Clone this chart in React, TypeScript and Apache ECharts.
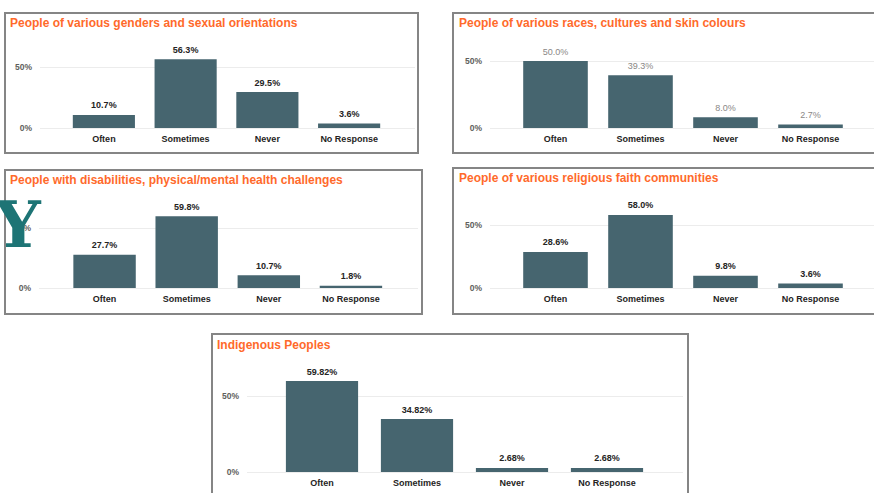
import React, { useEffect, useRef } from "react";
import * as echarts from "echarts";

const categories = ["Often", "Sometimes", "Never", "No Response"];
const titles = [
  "People of various genders and sexual orientations",
  "People of various races, cultures and skin colours",
  "People with disabilities, physical/mental health challenges",
  "People of various religious faith communities",
  "Indigenous Peoples",
];
const gendersValues = [10.7, 56.3, 29.5, 3.6];
const racesValues = [50.0, 39.3, 8.0, 2.7];
const disabilitiesValues = [27.7, 59.8, 10.7, 1.8];
const religiousValues = [28.6, 58.0, 9.8, 3.6];
const indigenousValues = [59.82, 34.82, 2.68, 2.68];
const yTicks = [0, 50];
const decimals = [1, 1, 1, 1, 2];

// layout of each panel (pixels)
const panels = [
  { box: [5, 13, 413, 140], title: [10, 23], zero: 128, scale: 1.22, gA: [40, 375], gB: [63, 327], labelColor: "#252423", labelBold: true },
  { box: [453, 13, 432, 140], title: [459, 23], zero: 128, scale: 1.34, gA: [490, 384], gB: [513, 340], labelColor: "#8a8886", labelBold: false },
  { box: [5, 170, 417, 144], title: [10, 180], zero: 288, scale: 1.2, gA: [39, 379], gB: [63.5, 328.5], labelColor: "#252423", labelBold: true },
  { box: [453, 168, 432, 146], title: [459, 178], zero: 288, scale: 1.26, gA: [490, 384], gB: [513, 340], labelColor: "#252423", labelBold: true },
  { box: [212, 334, 476, 175], title: [217, 345], zero: 472, scale: 1.52, gA: [247, 436], gB: [274.5, 380], labelColor: "#252423", labelBold: true },
];

const allValues = [gendersValues, racesValues, disabilitiesValues, religiousValues, indigenousValues];

const BAR = "#46656f";
const FONT = "Liberation Sans, Arial, sans-serif";
const Y_MAX = 70;

export default function App() {
  const ref = useRef<HTMLDivElement>(null);
  useEffect(() => {
    if (!ref.current) return;
    const chart = echarts.init(ref.current, null, { renderer: "svg" });
    const grid: any[] = [];
    const xAxis: any[] = [];
    const yAxis: any[] = [];
    const series: any[] = [];
    const graphic: any[] = [];

    panels.forEach((p, i) => {
      const h = Y_MAX * p.scale;
      const top = p.zero - h;
      graphic.push({
        type: "rect",
        shape: { x: p.box[0], y: p.box[1], width: p.box[2], height: p.box[3] },
        style: { fill: "#fff", stroke: "#858585", lineWidth: 2 },
        z: -10,
      });
      graphic.push({
        type: "text",
        x: p.title[0],
        y: p.title[1],
        style: {
          text: titles[i],
          fill: "#ff6a2b",
          font: `bold 12px ${FONT}`,
          verticalAlign: "middle",
        },
        z: 10,
      });
      grid.push({ left: p.gA[0], top, width: p.gA[1], height: h, containLabel: false });
      const gA = grid.length - 1;
      xAxis.push({ gridIndex: gA, type: "value", min: 0, max: 1, show: false });
      yAxis.push({
        gridIndex: gA,
        type: "value",
        min: 0,
        max: Y_MAX,
        interval: 50,
        axisLine: { show: false },
        axisTick: { show: false },
        axisLabel: {
          showMaxLabel: false,
          margin: 8,
          color: "#605e5c",
          fontSize: 8.5,
          fontWeight: "bold",
          fontFamily: FONT,
          formatter: (v: number) => (yTicks.includes(v) ? `${v}%` : ""),
        },
        splitLine: {
          show: true,
          showMaxLine: false,
          lineStyle: { color: ["#ececec", "#ececec", "rgba(0,0,0,0)"], width: 1 },
        },
      });
      grid.push({ left: p.gB[0], top, width: p.gB[1], height: h, containLabel: false });
      const gB = grid.length - 1;
      xAxis.push({
        gridIndex: gB,
        type: "category",
        data: categories,
        axisLine: { show: false },
        axisTick: { show: false },
        axisLabel: {
          margin: 6,
          color: "#252423",
          fontSize: 9,
          fontWeight: "bold",
          fontFamily: FONT,
          interval: 0,
        },
      });
      yAxis.push({ gridIndex: gB, type: "value", min: 0, max: Y_MAX, show: false, splitLine: { show: false } });
      series.push({
        type: "bar",
        xAxisIndex: gB,
        yAxisIndex: gB,
        data: allValues[i],
        barCategoryGap: "24%",
        itemStyle: { color: BAR },
        label: {
          show: true,
          position: "top",
          distance: 5,
          color: p.labelColor,
          fontSize: 9,
          fontWeight: p.labelBold ? "bold" : "normal",
          fontFamily: FONT,
          formatter: (d: any) => `${Number(d.value).toFixed(decimals[i])}%`,
        },
      });
    });

    graphic.push({
      type: "text",
      x: -5,
      y: 224,
      style: {
        text: "Y",
        fill: "#1d7475",
        font: `bold 64px DejaVu Serif, serif`,
        verticalAlign: "middle",
      },
      z: 20,
    });

    chart.setOption({
      animation: false,
      backgroundColor: "#fff",
      grid,
      xAxis,
      yAxis,
      series,
      graphic,
    });
    return () => chart.dispose();
  }, []);
  return <div ref={ref} style={{ position: "fixed", left: 0, top: 0, width: 874, height: 493 }} />;
}
